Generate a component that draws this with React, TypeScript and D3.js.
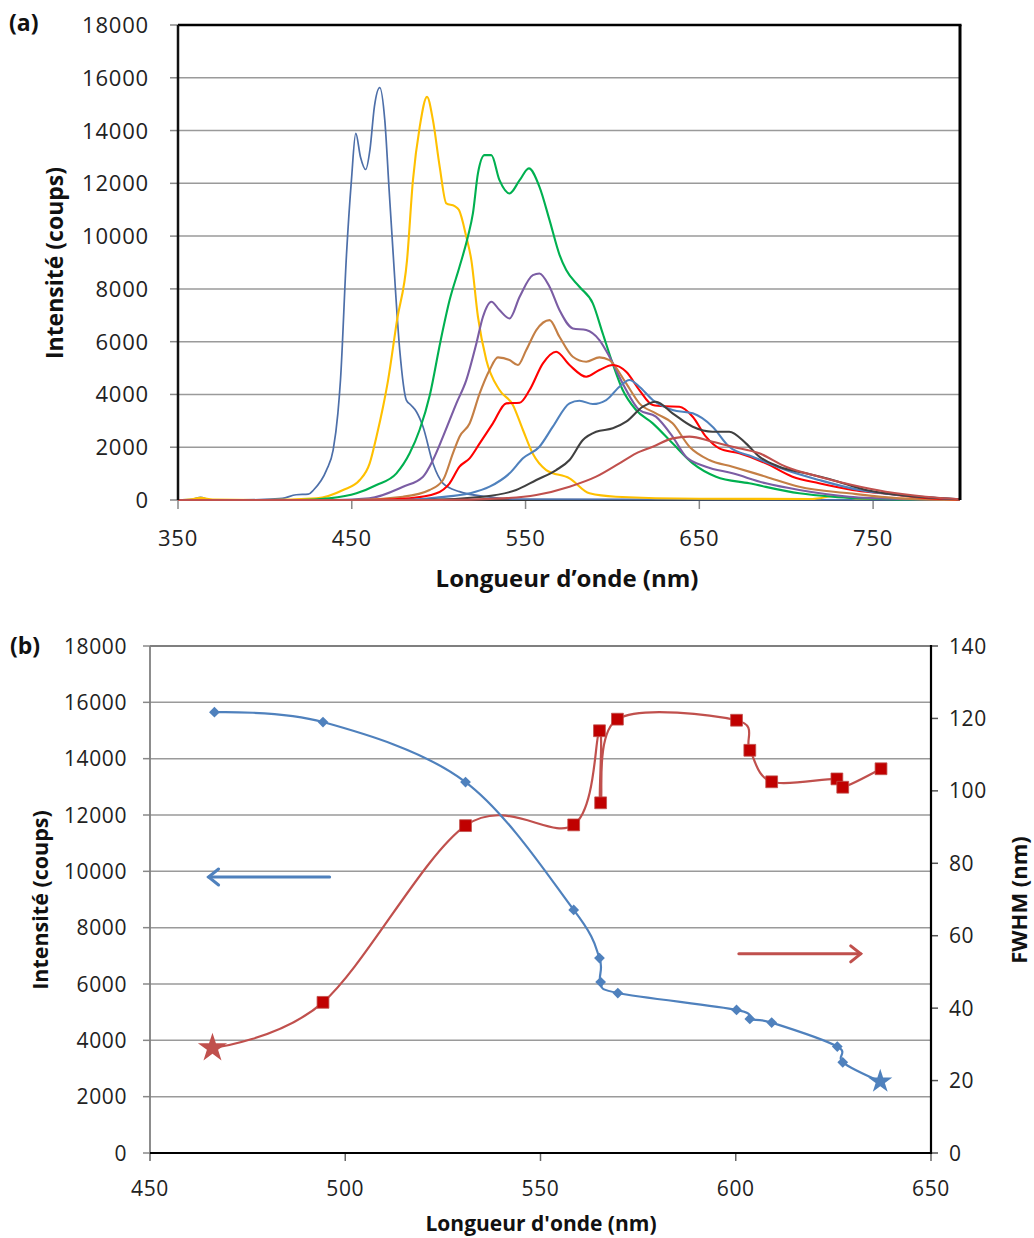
import React from 'react';
import * as d3 from 'd3';

type P = [number, number];

// ---------- Panel (a): emission spectra (wavelength nm, intensity counts) ----------
const spectrumA1: P[] = [[350,0],[358,20],[363,100],[368,10],[380,0],[400,20],[410,60],[418,200],[425,220],[428,380],[435.5,1140],[439.3,1900],[442,3280],[443.5,4545],[447,9345],[449.8,12120],[452.3,13890],[455,13000],[458,12525],[460.5,13300],[463,14900],[466.1,15630],[469,14394],[471.5,11743],[473.8,9345],[477.6,5682],[481.4,3788],[484,3600],[487.2,3345],[491,2777],[496.7,1390],[502.5,632],[512,316],[527.4,126],[545,30],[800,0]];
const spectrumA2: P[] = [[350,0],[358,30],[363,80],[370,20],[400,0],[429.7,63],[445,379],[454.6,758],[460.3,1390],[464.2,2400],[468,3535],[470.9,4545],[476,6800],[481.8,9090],[485.2,12120],[489.1,14140],[493.3,15277],[496.7,14394],[500.6,12626],[504.4,11238],[509.2,11137],[511.7,10985],[515.9,9974],[518.8,9090],[522.6,6944],[527.4,5303],[535,4167],[542.7,3600],[548.5,2652],[554.2,1750],[561.9,1136],[575.3,820],[586.8,253],[602,126],[650,50],[715,40],[728,150],[740,60],[800,30]];
const spectrumA3: P[] = [[350,0],[420,0],[437,63],[452.7,253],[464.2,568],[475.7,1010],[483.3,1768],[489,2652],[495,4000],[501,6000],[506.3,7576],[512,8838],[516.9,10000],[519.7,10859],[522.6,12375],[526.4,13068],[530.3,13068],[535,12120],[540.8,11617],[546.6,12120],[551.9,12565],[558,11868],[563.8,10606],[569.5,9300],[573.4,8712],[581,8080],[588.7,7450],[594.4,6313],[600.1,5177],[605.9,4167],[613.6,3409],[623.2,2904],[634.6,2147],[646.2,1390],[659.6,884],[678.7,632],[707.5,253],[726.6,126],[760,30],[800,0]];
const spectrumA4: P[] = [[350,0],[440,0],[460,63],[479.5,505],[491,884],[496.7,1515],[502.5,2400],[510.2,3663],[515.9,4545],[521.7,5934],[525.5,6944],[530.3,7513],[535,7197],[540.8,6880],[546.6,7702],[554.2,8523],[558,8586],[563.8,8080],[569.5,7197],[577.2,6502],[584.9,6440],[592.5,6061],[598.3,5429],[605.9,4419],[615.5,3409],[625,3157],[634.6,2400],[642.3,1641],[653.8,1263],[669.1,1010],[688.3,632],[707.5,379],[736.2,126],[770,30],[800,0]];
const spectrumA5: P[] = [[350,0],[450,0],[479.5,126],[494.8,379],[502.5,758],[508.2,1768],[512,2400],[517.8,2900],[523.6,4040],[529.3,4924],[534.1,5404],[540.8,5303],[545.6,5114],[550.4,5682],[556.2,6440],[563.8,6818],[569.5,6187],[577.2,5429],[584.9,5240],[592.5,5404],[598.3,5303],[600.2,5177],[607.9,4419],[615.5,3663],[625,3284],[634.6,2904],[644.3,2020],[655.7,1515],[669.1,1263],[688.3,884],[707.5,505],[736.2,253],[765,63],[800,0]];
const spectrumA6: P[] = [[350,0],[460,0],[483.3,63],[498.7,253],[506.3,632],[512,1263],[517.8,1578],[523.6,2147],[531.2,2904],[538.9,3663],[546.6,3686],[552.3,4167],[560,5177],[567.6,5618],[575.3,5114],[584.9,4671],[592.5,4924],[600.2,5114],[607.9,4860],[615.5,4167],[623.2,3598],[630,3550],[638.5,3535],[646.2,3157],[653.8,2400],[661.5,1957],[673,1768],[688.3,1390],[703.6,884],[718.9,632],[738,379],[755.4,253],[784,63],[800,20]];
const spectrumA7: P[] = [[350,0],[480,0],[500,100],[517.8,253],[529.3,505],[540.8,1010],[548.5,1578],[558,2020],[565.7,2777],[575.3,3663],[581,3762],[588.7,3636],[596.4,3788],[604,4293],[609.8,4545],[615.5,4293],[623.2,3788],[634.6,3409],[646.2,3284],[657.6,2777],[667.2,2020],[680.6,1642],[699.8,1136],[718.9,758],[742,379],[765,189],[800,30]];
const spectrumA8: P[] = [[350,0],[490,0],[525.5,126],[544.6,379],[556.2,758],[567.6,1136],[575.3,1515],[583,2273],[590.6,2587],[600.2,2715],[607.9,2966],[617.5,3535],[625,3724],[634.6,3284],[646.2,2777],[657.6,2587],[667.2,2587],[676.8,2147],[684.5,1642],[696,1263],[711.3,1010],[726.6,758],[745.8,379],[765,189],[800,30]];
const spectrumA9: P[] = [[350,0],[500,0],[537,63],[556.2,189],[575.3,505],[590.6,884],[604,1390],[613.6,1768],[623.2,2020],[634.6,2336],[644.3,2400],[657.6,2210],[669.1,2020],[684.5,1768],[699.8,1263],[718.9,884],[738,568],[757.3,316],[780.3,126],[800,30]];

const spectraA = [spectrumA1, spectrumA2, spectrumA3, spectrumA4, spectrumA5, spectrumA6, spectrumA7, spectrumA8, spectrumA9];
const spectraColors = ['#4D6FA9', '#FFC000', '#00B050', '#7B5DA4', '#C47F45', '#FF0000', '#4F81BD', '#404040', '#C0504D'];

const yTicksA = [0, 2000, 4000, 6000, 8000, 10000, 12000, 14000, 16000, 18000];
const xTicksA = [350, 450, 550, 650, 750];

// ---------- Panel (b): peak intensity and FWHM vs wavelength ----------
const peakWavelengths = [466.5, 494.3, 530.8, 558.5, 565.1, 565.4, 569.8, 600.2, 603.6, 609.2, 626.0, 627.4, 637.0];
const peakIntensity = [15650, 15300, 13170, 8630, 6920, 6070, 5680, 5080, 4760, 4630, 3780, 3220, 2540];
const fwhmWavelengths = [466.0, 494.3, 530.8, 558.5, 565.1, 565.4, 569.7, 600.2, 603.6, 609.2, 625.9, 627.4, 637.2];
const fwhmValues = [29, 41.6, 90.4, 90.6, 116.6, 96.7, 119.8, 119.5, 111.2, 102.5, 103.3, 101.0, 106.1];

const yTicksB = [0, 2000, 4000, 6000, 8000, 10000, 12000, 14000, 16000, 18000];
const y2TicksB = [0, 20, 40, 60, 80, 100, 120, 140];
const xTicksB = [450, 500, 550, 600, 650];

const FONT = "'Open Sans', 'Liberation Sans', sans-serif";

export default function App() {
  // scales panel (a)
  const xa = d3.scaleLinear().domain([350, 800]).range([178, 960]);
  const ya = d3.scaleLinear().domain([0, 18000]).range([500, 25]);
  // scales panel (b)
  const xb = d3.scaleLinear().domain([450, 650]).range([150, 931]);
  const yb = d3.scaleLinear().domain([0, 18000]).range([1153, 646]);
  const yb2 = d3.scaleLinear().domain([0, 140]).range([1153, 646]);

  const lineA = d3.line<P>().x(d => xa(d[0])).y(d => ya(d[1])).curve(d3.curveMonotoneX);

  const blueLine = d3.line<number>()
    .x((_, i) => xb(peakWavelengths[i]))
    .y(d => yb(d))
    .curve(d3.curveCatmullRom.alpha(0));
  const redLine = d3.line<number>()
    .x((_, i) => xb(fwhmWavelengths[i]))
    .y(d => yb2(d))
    .curve(d3.curveCatmullRom.alpha(0));

  const star = d3.symbol(d3.symbolStar, 200)()!;
  const square = d3.symbol(d3.symbolSquare, 140)()!;
  const diamond = d3.symbol(d3.symbolSquare, 58)()!;

  const tickFont = { fontFamily: FONT, fontSize: 22, fill: '#222', letterSpacing: 0.8 };
  const tickFontB = { fontFamily: FONT, fontSize: 21, fill: '#222', letterSpacing: 0.6 };
  const titleFont = { fontFamily: FONT, fontWeight: 700, fill: '#111' };

  // arrows (data coordinates)
  const blueArrowY = yb(9800);
  const blueArrowX1 = xb(496);
  const blueArrowX2 = xb(465);
  const redArrowY = yb2(55);
  const redArrowX1 = xb(600.8);
  const redArrowX2 = xb(632);

  return (
    <svg width={1034} height={1238} style={{ position: 'absolute', left: 0, top: 0, background: '#fff' }}>
      <rect x={0} y={0} width={1034} height={1238} fill="#fff" />

      {/* ===== Panel (a) ===== */}
      <text x={9} y={31} style={{ ...titleFont, fontSize: 23 }}>(a)</text>
      {yTicksA.map(t => (
        <g key={'ga' + t}>
          {t > 0 && t < 18000 && (
            <line x1={xa(350)} x2={xa(800)} y1={ya(t)} y2={ya(t)} stroke="#9A9A9A" strokeWidth={1.5} />
          )}
          <line x1={xa(350) - 8} x2={xa(350)} y1={ya(t)} y2={ya(t)} stroke="#888" strokeWidth={1.5} />
          <text x={149} y={ya(t) + 8} textAnchor="end" style={tickFont}>{t}</text>
        </g>
      ))}
      {xTicksA.map(t => (
        <g key={'xa' + t}>
          <line x1={xa(t)} x2={xa(t)} y1={500} y2={509} stroke="#888" strokeWidth={1.5} />
          <text x={xa(t)} y={546} textAnchor="middle" style={tickFont}>{t}</text>
        </g>
      ))}
      <line x1={xa(350)} x2={xa(800)} y1={500} y2={500} stroke="#333" strokeWidth={2} />
      {spectraA.map((s, i) => (
        <path key={'sp' + i} d={lineA(s)!} fill="none" stroke={spectraColors[i]} strokeWidth={i === 0 ? 1.7 : 2.1} strokeLinejoin="round" />
      ))}
      {/* frame */}
      <line x1={xa(350)} x2={xa(800) + 1.5} y1={ya(18000)} y2={ya(18000)} stroke="#000" strokeWidth={2.5} />
      <line x1={xa(800)} x2={xa(800)} y1={ya(18000)} y2={500} stroke="#000" strokeWidth={3} />
      <line x1={xa(350)} x2={xa(350)} y1={ya(18000)} y2={500} stroke="#111" strokeWidth={2.5} />

      <text transform={`translate(63,${263}) rotate(-90)`} textAnchor="middle" style={{ ...titleFont, fontSize: 23 }}>Intensité (coups)</text>
      <text x={567} y={587} textAnchor="middle" style={{ ...titleFont, fontSize: 24 }}>Longueur d’onde (nm)</text>

      {/* ===== Panel (b) ===== */}
      <text x={10} y={654} style={{ ...titleFont, fontSize: 23 }}>(b)</text>
      {yTicksB.map(t => (
        <g key={'gb' + t}>
          {t > 0 && (
            <line x1={xb(450)} x2={xb(650)} y1={yb(t)} y2={yb(t)} stroke={t === 18000 ? '#555' : '#9A9A9A'} strokeWidth={1.5} />
          )}
          <line x1={xb(450) - 7} x2={xb(450)} y1={yb(t)} y2={yb(t)} stroke="#888" strokeWidth={1.5} />
          <text x={127} y={yb(t) + 7.5} textAnchor="end" style={tickFontB}>{t}</text>
        </g>
      ))}
      {y2TicksB.map(t => (
        <g key={'gb2' + t}>
          <line x1={xb(650)} x2={xb(650) + 7} y1={yb2(t)} y2={yb2(t)} stroke="#555" strokeWidth={1.5} />
          <text x={949} y={yb2(t) + 7.5} textAnchor="start" style={tickFontB}>{t}</text>
        </g>
      ))}
      {xTicksB.map(t => (
        <g key={'xb' + t}>
          <line x1={xb(t)} x2={xb(t)} y1={1153} y2={1161} stroke="#666" strokeWidth={1.5} />
          <text x={xb(t)} y={1196} textAnchor="middle" style={tickFontB}>{t}</text>
        </g>
      ))}
      <line x1={xb(450)} x2={xb(450)} y1={yb(18000)} y2={1153} stroke="#808080" strokeWidth={1.8} />
      <line x1={xb(650)} x2={xb(650)} y1={yb(18000) - 1} y2={1154} stroke="#000" strokeWidth={2.2} />
      <line x1={xb(450)} x2={xb(650) + 1} y1={1153} y2={1153} stroke="#000" strokeWidth={2.2} />

      {/* series lines */}
      <path d={redLine(fwhmValues)!} fill="none" stroke="#C0504D" strokeWidth={2.2} />
      <path d={blueLine(peakIntensity)!} fill="none" stroke="#4F81BD" strokeWidth={2.2} />

      {/* red markers */}
      {fwhmValues.map((v, i) => (
        <path key={'rm' + i}
          d={i === 0 ? star : square}
          transform={`translate(${xb(fwhmWavelengths[i])},${yb2(v)})${i === 0 ? ' scale(1.15)' : ''}`}
          fill={i === 0 ? '#C0504D' : '#C00000'} stroke={i === 0 ? 'none' : '#C0504D'} strokeWidth={0.8} />
      ))}
      {/* blue markers */}
      {peakIntensity.map((v, i) => (
        <path key={'bm' + i}
          d={i === peakIntensity.length - 1 ? star : diamond}
          transform={`translate(${xb(peakWavelengths[i])},${yb(v)})${i === peakIntensity.length - 1 ? ' scale(0.95)' : ' rotate(45)'}`}
          fill="#4F81BD" />
      ))}

      {/* arrows */}
      <g stroke="#4F81BD" strokeWidth={3} fill="none" strokeLinecap="round">
        <line x1={blueArrowX1} x2={blueArrowX2} y1={blueArrowY} y2={blueArrowY} />
        <polyline points={`${blueArrowX2 + 10},${blueArrowY - 8} ${blueArrowX2},${blueArrowY} ${blueArrowX2 + 10},${blueArrowY + 8}`} />
      </g>
      <g stroke="#C0504D" strokeWidth={3} fill="none" strokeLinecap="round">
        <line x1={redArrowX1} x2={redArrowX2} y1={redArrowY} y2={redArrowY} />
        <polyline points={`${redArrowX2 - 10},${redArrowY - 8} ${redArrowX2},${redArrowY} ${redArrowX2 - 10},${redArrowY + 8}`} />
      </g>

      <text transform={`translate(48,900) rotate(-90)`} textAnchor="middle" style={{ ...titleFont, fontSize: 21.5 }}>Intensité (coups)</text>
      <text transform={`translate(1027,900) rotate(-90)`} textAnchor="middle" style={{ ...titleFont, fontSize: 22 }}>FWHM (nm)</text>
      <text x={541} y={1231} textAnchor="middle" style={{ ...titleFont, fontSize: 21 }}>Longueur d'onde (nm)</text>
    </svg>
  );
}
